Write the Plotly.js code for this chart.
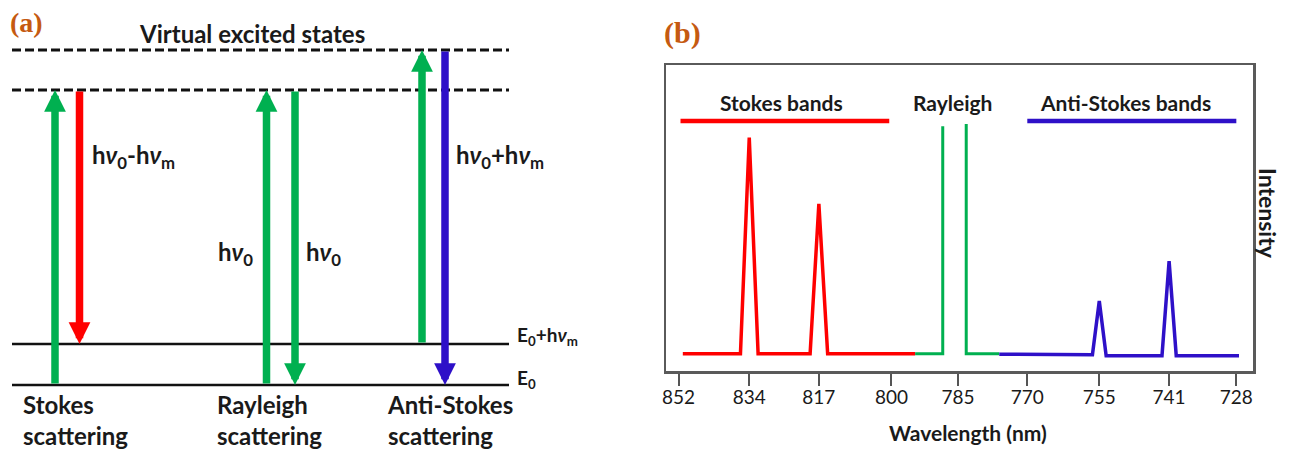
<!DOCTYPE html>
<html><head><meta charset="utf-8">
<script src="https://cdn.plot.ly/plotly-3.0.1.min.js"></script>
<style>html,body{margin:0;padding:0;background:#fff}#chart{width:1296px;height:455px}</style>
</head><body><div id="chart"></div>
<script>
// ---------------- Panel (a): energy-level diagram ----------------
const levelNames  = ['E<sub>0</sub>', 'E<sub>0</sub>+h<i>ν</i><sub>m</sub>', 'virtual 1', 'virtual 2'];
const levelEnergy = [0, 41, 295, 335];          // relative energies
const levelDashed = [false, false, true, true];
const processLabels = ['Stokes<br>scattering', 'Rayleigh<br>scattering', 'Anti-Stokes<br>scattering'];
const excitationFrom = [0, 0, 1];               // indices into levelEnergy
const excitationTo   = [2, 2, 3];
const emissionFrom   = [2, 2, 3];
const emissionTo     = [1, 0, 0];
const excitationLabels = ['', 'h<i>ν</i><sub>0</sub>', ''];
const emissionLabels   = ['h<i>ν</i><sub>0</sub>-h<i>ν</i><sub>m</sub>', 'h<i>ν</i><sub>0</sub>', 'h<i>ν</i><sub>0</sub>+h<i>ν</i><sub>m</sub>'];

// ---------------- Panel (b): spectrum ----------------
const tickWavelengths = [852, 834, 817, 800, 785, 770, 755, 741, 728];
const tickLabels      = ['852', '834', '817', '800', '785', '770', '755', '741', '728'];
const stokesWl   = [850.9, 836.2, 834, 831.8, 819.1, 817, 814.9, 794.6];
const stokesI    = [5.6, 5.6, 76.3, 5.6, 5.6, 54.6, 5.6, 5.6];
const rayleighWl = [794.6, 788.4, 788.4, null, 783.2, 783.2, 776.0];
const rayleighI  = [5.6, 5.6, 80.0, null, 80.7, 5.6, 5.6];
const antiWl     = [776.0, 756.4, 755, 753.6, 742.4, 741, 739.6, 727.5];
const antiI      = [5.5, 5.3, 22.9, 5.0, 5.0, 35.9, 5.0, 5.0];
const bandNames  = ['Stokes bands', 'Rayleigh', 'Anti-Stokes bands'];
const bandFromWl = [851.5, null, 770.0];
const bandToWl   = [800.5, null, 728.0];
const bandLevel  = 81.7;

// ---------------- styling / layout constants ----------------
const RED = '#ff0000', GREEN = '#00b050', BLUE = '#2e10c8', ORANGE = '#c55a11';
const FONT = 'Lato, "Open Sans", sans-serif';
const INK = '#1a1a1a';
const W = 1296, H = 455;
const wn = wl => (wl == null ? null : 1e7 / wl);   // wavelength (nm) -> wavenumber (cm^-1)
const excX = [55, 266.5, 422];     // column positions in panel (a)
const emiX = [79.5, 295, 445];
const emiColors = [RED, GREEN, BLUE];
const levelX0 = 12, levelX1 = 509;

const traces = [];
// level lines
levelEnergy.forEach((e, i) => {
  traces.push({
    x: [levelX0, levelX1], y: [e, e], xaxis: 'x2', yaxis: 'y2', mode: 'lines',
    line: {color: '#111', width: levelDashed[i] ? 2.8 : 2.6, dash: levelDashed[i] ? '9px,4px' : 'solid'},
    hoverinfo: 'skip', showlegend: false
  });
});
// spectrum
traces.push({x: stokesWl.map(wn), y: stokesI, mode: 'lines', line: {color: RED, width: 3.5}, showlegend: false, connectgaps: false});
traces.push({x: rayleighWl.map(wn), y: rayleighI, mode: 'lines', line: {color: GREEN, width: 3}, showlegend: false, connectgaps: false});
traces.push({x: antiWl.map(wn), y: antiI, mode: 'lines', line: {color: BLUE, width: 3.5}, showlegend: false, connectgaps: false});
// band bars
const bandColors = [RED, null, BLUE];
bandNames.forEach((n, i) => {
  if (bandFromWl[i] == null) return;
  traces.push({x: [wn(bandFromWl[i]), wn(bandToWl[i])], y: [bandLevel, bandLevel], mode: 'lines',
    line: {color: bandColors[i], width: 4.5}, showlegend: false, hoverinfo: 'skip'});
});

const ann = [];
const px2x = p => p / W, py2y = p => 1 - p / H;
const txt = (x, y, text, size, extra) => Object.assign({xref: 'x2', yref: 'y2', x: x, y: y, xanchor: 'left', yanchor: 'middle', align: 'left',
  text: '<b>' + text + '</b>', showarrow: false, font: {family: FONT, size: size, color: INK}}, extra || {});
// arrows
processLabels.forEach((p, i) => {
  ann.push({xref: 'x2', yref: 'y2', axref: 'x2', ayref: 'y2',
    x: excX[i], y: levelEnergy[excitationTo[i]], ax: excX[i], ay: levelEnergy[excitationFrom[i]],
    text: '', showarrow: true, arrowhead: 2, arrowwidth: 7.5, arrowsize: 0.58, arrowcolor: GREEN, standoff: 0});
  ann.push({xref: 'x2', yref: 'y2', axref: 'x2', ayref: 'y2',
    x: emiX[i], y: levelEnergy[emissionTo[i]], ax: emiX[i], ay: levelEnergy[emissionFrom[i]],
    text: '', showarrow: true, arrowhead: 2, arrowwidth: 7.5, arrowsize: 0.58, arrowcolor: emiColors[i], standoff: 0});
  ann.push(txt(21 + [0, 194, 364][i], -35, p, 24));
});
// arrow labels
ann.push(txt(90, 385 - 156, emissionLabels[0], 24));
ann.push(txt(216, 385 - 253, excitationLabels[1], 24));
ann.push(txt(304, 385 - 253, emissionLabels[1], 24));
ann.push(txt(454, 385 - 156, emissionLabels[2], 24));
// level labels
ann.push(txt(515, levelEnergy[1] + 8, levelNames[1], 19));
ann.push(txt(515, levelEnergy[0] + 6, levelNames[0], 19));
ann.push(txt(252, 385 - 33, 'Virtual excited states', 24, {xanchor: 'center'}));
// panel letters
ann.push({xref: 'paper', yref: 'paper', x: px2x(26), y: py2y(22), xanchor: 'center', yanchor: 'middle', text: '<b>(a)</b>', showarrow: false, font: {family: '"Liberation Serif", "DejaVu Serif", serif', size: 28, color: ORANGE}});
ann.push({xref: 'paper', yref: 'paper', x: px2x(682), y: py2y(33), xanchor: 'center', yanchor: 'middle', text: '<b>(b)</b>', showarrow: false, font: {family: '"Liberation Serif", "DejaVu Serif", serif', size: 30, color: ORANGE}});
// band labels
const bandLabelWl = [826.1, 786.3, 749.6];
bandNames.forEach((n, i) => {
  ann.push({xref: 'x', yref: 'y', x: wn(bandLabelWl[i]), y: 87.6, xanchor: 'center', yanchor: 'middle', text: '<b>' + n + '</b>', showarrow: false, font: {family: FONT, size: 21, color: INK}});
});
// axis titles
ann.push({xref: 'paper', yref: 'paper', x: px2x(968), y: py2y(432), xanchor: 'center', yanchor: 'middle', text: '<b>Wavelength (nm)</b>', showarrow: false, font: {family: FONT, size: 21, color: INK}});
ann.push({xref: 'paper', yref: 'paper', x: px2x(1268), y: py2y(213), xanchor: 'center', yanchor: 'middle', textangle: 90, text: '<b>Intensity</b>', showarrow: false, font: {family: FONT, size: 23, color: INK}});

const layout = {
  width: W, height: H, margin: {l: 0, r: 0, t: 0, b: 0},
  paper_bgcolor: '#fff', plot_bgcolor: '#fff', showlegend: false,
  xaxis: {domain: [666 / W, 1253 / W], range: [11692, 13796], anchor: 'y',
    tickvals: tickWavelengths.map(wn), ticktext: tickLabels, ticks: 'outside', ticklen: 12, tickwidth: 2, tickcolor: '#555',
    ticklabelstandoff: -4,
    showline: true, mirror: true, linecolor: '#5a5a5a', linewidth: 2.5, showgrid: false, zeroline: false,
    tickfont: {family: FONT, size: 19, color: '#1a1a1a'}},
  yaxis: {domain: [1 - 371 / H, 1 - 65 / H], range: [0, 100], anchor: 'x',
    showticklabels: false, ticks: '', showline: true, mirror: true, linecolor: '#5a5a5a', linewidth: 2.5, showgrid: false, zeroline: false},
  xaxis2: {domain: [0, 0.5], range: [0, 648], anchor: 'y2', visible: false},
  yaxis2: {domain: [0, 1], range: [-70, 385], anchor: 'x2', visible: false},
  annotations: ann
};
Plotly.newPlot('chart', traces, layout, {staticPlot: true, displayModeBar: false});
</script></body></html>
